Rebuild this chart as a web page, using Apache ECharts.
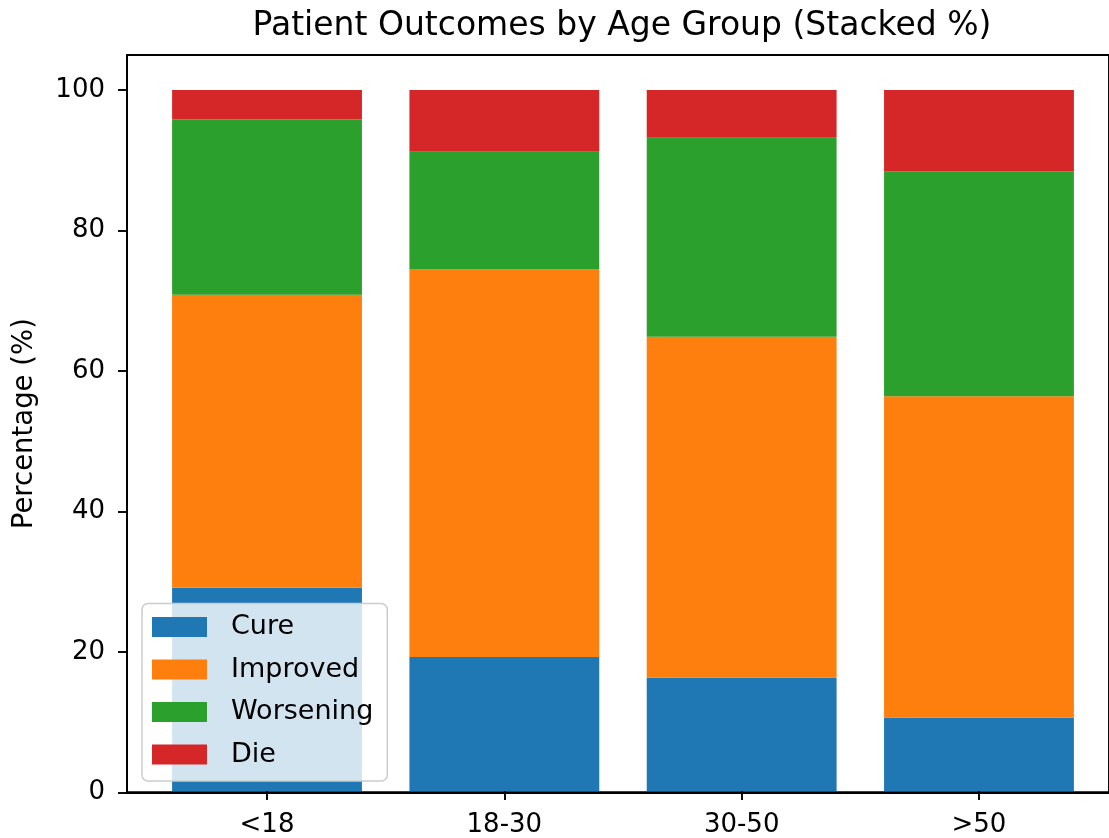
<!DOCTYPE html>
<html>
<head>
<meta charset="utf-8">
<script src="https://cdn.jsdelivr.net/npm/echarts@6/dist/echarts.min.js"></script>
<style>
html,body{margin:0;padding:0;background:#fff;}
#chart{width:1109px;height:838px;}
</style>
</head>
<body>
<div id="chart"></div>
<script>
// ---- data ----
const categories = ['<18', '18-30', '30-50', '>50'];
const seriesNames = ['Cure', 'Improved', 'Worsening', 'Die'];
const cure = [29.0, 19.1, 16.2, 10.5];
const improved = [41.8, 55.3, 48.6, 45.8];
const worsening = [25.0, 16.8, 28.4, 32.1];
const die = [4.2, 8.8, 6.8, 11.6];
const yTicks = [0, 20, 40, 60, 80, 100];

const colors = ['#1f77b4', '#ff7f0e', '#2ca02c', '#d62728'];
const values = [cure, improved, worsening, die];

const FONT = 'DejaVu Sans';
// frame (matplotlib axes box)
const frameLeft = 127, frameTop = 55, frameW = 992, frameH = 737.3;
const xMin = -0.59, xMax = 3.59;       // data-space limits of frame
const band = frameW / (xMax - xMin);   // px per category
const catLeft = frameLeft + (-0.5 - xMin) * band;
const catW = categories.length * band;
const yMax = 105;

const chart = echarts.init(document.getElementById('chart'), null, {renderer: 'canvas'});
const option = {
  animation: false,
  backgroundColor: '#fff',
  title: {
    text: 'Patient Outcomes by Age Group (Stacked %)',
    left: 622, top: 10, textAlign: 'center', padding: 0,
    textStyle: {fontFamily: FONT, fontSize: 33, fontWeight: 'normal', color: '#000'}
  },
  grid: [
    {left: catLeft, top: frameTop, width: catW, height: frameH, show: false},
    {left: frameLeft, top: frameTop, width: frameW, height: frameH,
     show: true, borderColor: '#000', borderWidth: 1.9, backgroundColor: 'transparent'}
  ],
  legend: {
    orient: 'vertical', left: 142, top: 603.5,
    data: seriesNames, icon: 'rect',
    itemWidth: 55, itemHeight: 20, itemGap: 15.5,
    padding: [10, 14, 13, 10],
    backgroundColor: 'rgba(255,255,255,0.8)',
    borderColor: '#cccccc', borderWidth: 1.5, borderRadius: 6,
    textStyle: {fontFamily: FONT, fontSize: 27, color: '#000', padding: [0, 0, 0, 19]}
  },
  xAxis: [
    {
      type: 'category', gridIndex: 0, data: categories, boundaryGap: true,
      axisLine: {show: false},
      axisTick: {show: true, alignWithLabel: true, length: 9, lineStyle: {color: '#000', width: 1.9}},
      axisLabel: {margin: 21, fontFamily: FONT, fontSize: 26, color: '#000'},
      splitLine: {show: false}
    },
    {
      type: 'value', gridIndex: 1, min: xMin, max: xMax,
      axisLine: {show: true, onZero: false, lineStyle: {color: '#000', width: 1.9}},
      axisTick: {show: false}, axisLabel: {show: false}, splitLine: {show: false}
    }
  ],
  yAxis: [
    {
      type: 'value', gridIndex: 0, min: 0, max: yMax,
      axisLine: {show: false}, axisTick: {show: false}, axisLabel: {show: false}, splitLine: {show: false}
    },
    {
      type: 'value', gridIndex: 1, min: 0, max: yMax, interval: 20,
      name: 'Percentage (%)', nameLocation: 'middle', nameRotate: 90, nameGap: 88,
      nameTextStyle: {fontFamily: FONT, fontSize: 27.5, color: '#000'},
      splitLine: {show: false},
      axisLine: {show: true, onZero: false, lineStyle: {color: '#000', width: 1.9}},
      axisTick: {show: true, length: 9, lineStyle: {color: '#000', width: 1.9}, customValues: yTicks},
      axisLabel: {customValues: yTicks, margin: 22, fontFamily: FONT, fontSize: 26, color: '#000'}
    }
  ],
  series: seriesNames.map((name, s) => ({
    name: name, type: 'bar', stack: 'total',
    xAxisIndex: 0, yAxisIndex: 0,
    barWidth: '80%',
    itemStyle: {color: colors[s]},
    data: values[s]
  }))
};
chart.setOption(option);
</script>
</body>
</html>
